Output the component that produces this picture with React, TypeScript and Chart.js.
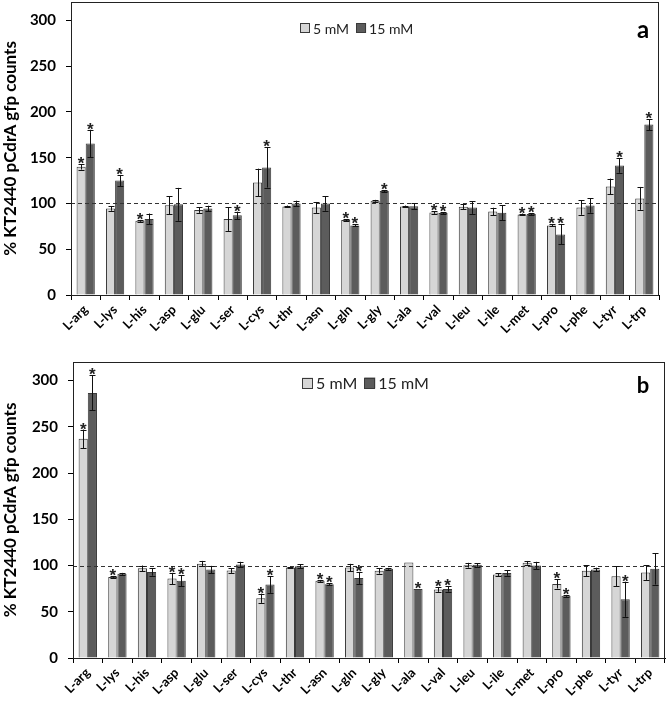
import React, { useEffect, useRef } from 'react';
import { Chart, registerables } from 'chart.js';
Chart.register(...registerables);

const categories = ['L-arg','L-lys','L-his','L-asp','L-glu','L-ser','L-cys','L-thr','L-asn','L-gln','L-gly','L-ala','L-val','L-leu','L-ile','L-met','L-pro','L-phe','L-tyr','L-trp'];
const seriesNames = ['5 mM', '15 mM'];
const yTicks = [0, 50, 100, 150, 200, 250, 300];

// Panel a
const a5 = [140, 94.5, 81, 98, 92.7, 83, 123, 96.7, 95.6, 81.8, 102.9, 96.7, 90.2, 96.4, 91.3, 88, 76, 95.6, 118.6, 105.5];
const a5Err = [3, 2.5, 1, 10, 3, 13, 15, 1, 6, 1, 1, 1, 1.5, 3, 4, 1, 1, 8, 8.5, 12.5];
const a15 = [165.5, 125, 83, 99, 94.5, 87, 139.3, 100, 100, 76, 113.5, 97, 89.5, 95.6, 89.8, 88.4, 66.2, 97.8, 141.5, 186.2];
const a15Err = [15, 6, 6, 18, 3, 4, 22, 3, 8, 1, 1, 3, 1, 7, 8, 1, 11, 8, 8, 6];
const starsA5 = [0, 2, 9, 12, 15, 16];
const starsA15 = [0, 1, 5, 6, 9, 10, 12, 15, 16, 18, 19];

// Panel b
const b5 = [237, 87.7, 97, 86, 102, 94.5, 64.6, 97.8, 83.4, 97.8, 94.2, 103.2, 74, 100.3, 90.2, 102.9, 80.1, 94.2, 88.4, 92.4];
const b5Err = [10, 1, 3, 6, 3, 2.5, 5, 1, 1, 4, 3, 0, 2.5, 2.6, 1.5, 2, 5, 6, 11, 8];
const b15 = [286.6, 91, 93, 83.4, 95.6, 101, 79.4, 99.3, 79.7, 86.6, 96.4, 74.7, 74.7, 100.7, 92, 100, 67.2, 95.6, 63.5, 96.4];
const b15Err = [19, 1, 4, 6, 4, 3, 9, 2, 1, 6.5, 1, 0, 3, 2, 3, 4, 1, 2, 19, 17];
const starsB5 = [0, 1, 3, 6, 8, 12, 16];
const starsB15 = [0, 3, 6, 8, 9, 11, 12, 16, 18];

const LIGHT = '#d6d6d6';
const DARK = '#5c5c5c';
const EDGE = '#3a3a3a';
const FONT = 'Lato, "Open Sans", sans-serif';

type PanelProps = {
  v5: number[]; e5: number[]; v15: number[]; e15: number[];
  s5: number[]; s15: number[];
  letter: string; height: number; padTop: number; padRight: number;
  axisW: number; xAxisH: number;
  legendX: number; legendY: number; legendFont: number; letterFont: number; letterY: number;
};

function Panel(p: PanelProps) {
  const ref = useRef<HTMLCanvasElement>(null);
  useEffect(() => {
    if (!ref.current) return;
    const errs = [p.e5, p.e15];
    const stars = [p.s5, p.s15];
    const deco = {
      id: 'deco',
      afterDatasetsDraw(chart: any) {
        const { ctx, chartArea, scales } = chart;
        const y = scales.y;
        ctx.save();
        const y100 = y.getPixelForValue(100);
        ctx.strokeStyle = '#333';
        ctx.lineWidth = 1;
        ctx.setLineDash([4, 3]);
        ctx.beginPath();
        ctx.moveTo(chartArea.left, Math.round(y100) + 0.5);
        ctx.lineTo(chartArea.right, Math.round(y100) + 0.5);
        ctx.stroke();
        ctx.setLineDash([]);
        for (let i = 0; i < 2; i++) {
          const meta = chart.getDatasetMeta(i);
          const data = chart.data.datasets[i].data as number[];
          meta.data.forEach((el: any, j: number) => {
            const v = data[j];
            const e = errs[i][j];
            const x = Math.round(el.x) + 0.5;
            const top = y.getPixelForValue(v + e);
            const bot = y.getPixelForValue(v - e);
            if (e > 0) {
              ctx.strokeStyle = '#111';
              ctx.lineWidth = 1;
              ctx.beginPath();
              ctx.moveTo(x, top); ctx.lineTo(x, bot);
              ctx.moveTo(x - 3, Math.round(top) + 0.5); ctx.lineTo(x + 3, Math.round(top) + 0.5);
              ctx.moveTo(x - 3, Math.round(bot) + 0.5); ctx.lineTo(x + 3, Math.round(bot) + 0.5);
              ctx.stroke();
            }
            if (stars[i].includes(j)) {
              ctx.fillStyle = '#222';
              ctx.font = `bold 17px "Liberation Sans", Arial, sans-serif`;
              ctx.textAlign = 'center';
              ctx.textBaseline = 'alphabetic';
              ctx.fillText('*', el.x, top + 5);
            }
          });
        }
        ctx.strokeStyle = '#222';
        ctx.lineWidth = 1;
        ctx.strokeRect(Math.round(chartArea.left) + 0.5, Math.round(chartArea.top) + 0.5,
          Math.round(chartArea.right - chartArea.left) - 1, Math.round(chartArea.bottom - chartArea.top));
        const fs = p.legendFont;
        ctx.font = `${fs}px ${FONT}`;
        ctx.textBaseline = 'middle';
        ctx.textAlign = 'left';
        let lx = p.legendX;
        const ly = p.legendY;
        const sq = Math.round(fs * 0.7);
        [LIGHT, DARK].forEach((c, k) => {
          ctx.fillStyle = c;
          ctx.fillRect(lx, ly - sq / 2, sq, sq);
          ctx.strokeStyle = EDGE;
          ctx.strokeRect(Math.round(lx) + 0.5, Math.round(ly - sq / 2) + 0.5, sq - 1, sq - 1);
          ctx.fillStyle = '#222';
          ctx.fillText(seriesNames[k], lx + sq + 3, ly + 1);
          lx += sq + 3 + ctx.measureText(seriesNames[k]).width + 7;
        });
        ctx.font = `bold ${p.letterFont}px ${FONT}`;
        ctx.fillStyle = '#000';
        ctx.textAlign = 'center';
        ctx.fillText(p.letter, 643, p.letterY);
        ctx.restore();
      },
    };
    const chart = new Chart(ref.current, {
      type: 'bar',
      data: {
        labels: categories,
        datasets: [
          { label: seriesNames[0], data: p.v5, backgroundColor: LIGHT, borderColor: EDGE, borderWidth: 1, categoryPercentage: 0.62, barPercentage: 1.0 },
          { label: seriesNames[1], data: p.v15, backgroundColor: DARK, borderColor: EDGE, borderWidth: 1, categoryPercentage: 0.62, barPercentage: 1.0 },
        ],
      },
      options: {
        responsive: false,
        animation: false,
        devicePixelRatio: 1,
        layout: { padding: { top: p.padTop, right: p.padRight, left: 0, bottom: 0 } },
        plugins: { legend: { display: false }, tooltip: { enabled: false } },
        scales: {
          x: {
            grid: { drawOnChartArea: false, drawTicks: true, tickLength: 5, color: '#000', offset: true },
            border: { color: '#000' },
            ticks: { minRotation: 45, maxRotation: 45, autoSkip: false, color: '#000', font: { family: FONT, size: 13, weight: 'bold' }, padding: 2 },
            afterFit: (s: any) => { s.height = p.xAxisH; s.paddingLeft = 0; s.paddingRight = 0; },
          },
          y: {
            min: 0, max: 320,
            afterBuildTicks: (s: any) => { s.ticks = yTicks.map((v) => ({ value: v })); },
            grid: { drawOnChartArea: false, drawTicks: true, tickLength: 5, color: '#000' },
            border: { color: '#000' },
            ticks: { color: '#000', font: { family: FONT, size: 15, weight: 'bold' }, padding: 10 },
            title: { display: true, text: '% KT2440 pCdrA gfp counts', color: '#000', font: { family: FONT, size: 17, weight: 'bold' }, padding: { top: 0, bottom: 0 } },
            afterFit: (s: any) => { s.width = p.axisW; s.paddingTop = 0; s.paddingBottom = 0; },
          },
        },
      },
      plugins: [deco],
    });
    return () => chart.destroy();
  }, []);
  return <canvas ref={ref} width={667} height={p.height} style={{ display: 'block', width: 667, height: p.height }} />;
}

export default function App() {
  return (
    <div style={{ position: 'absolute', left: 0, top: 0, width: 667, height: 708, background: '#fff' }}>
      <Panel v5={a5} e5={a5Err} v15={a15} e15={a15Err} s5={starsA5} s15={starsA15}
        letter="a" height={350} padTop={2} padRight={8} axisW={71} xAxisH={55}
        legendX={300} legendY={28} legendFont={14} letterFont={24} letterY={30} />
      <Panel v5={b5} e5={b5Err} v15={b15} e15={b15Err} s5={starsB5} s15={starsB15}
        letter="b" height={358} padTop={12} padRight={2} axisW={73} xAxisH={50}
        legendX={302} legendY={33} legendFont={16} letterFont={22} letterY={36} />
    </div>
  );
}
